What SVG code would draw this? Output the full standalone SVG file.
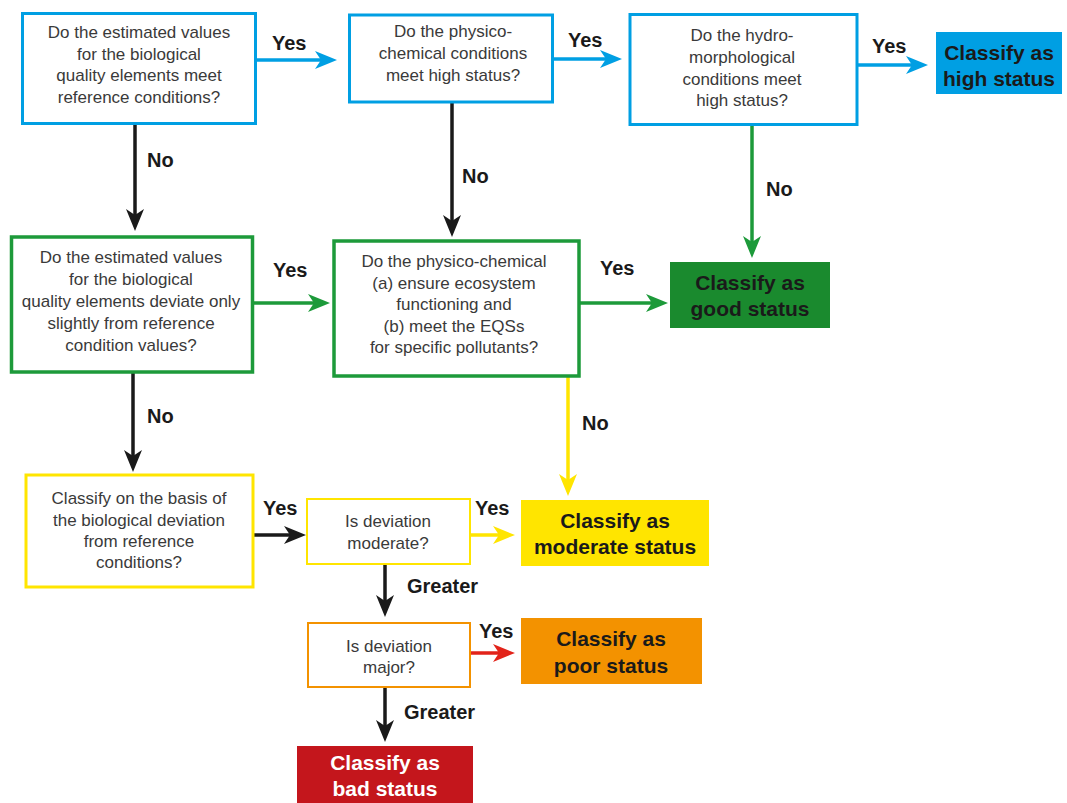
<svg xmlns="http://www.w3.org/2000/svg" width="1067" height="803" viewBox="0 0 1067 803">
<defs>
<style>
.q{fill:#fff;}
.t{font-family:"Liberation Sans",Arial,sans-serif;font-size:17px;fill:#3a3a3a;text-anchor:middle;}
.c{font-family:"Liberation Sans",Arial,sans-serif;font-size:21px;font-weight:bold;fill:#1a1a1a;text-anchor:middle;}
.l{font-family:"Liberation Sans",Arial,sans-serif;font-size:20px;font-weight:bold;fill:#1a1a1a;}
.ln{fill:none;stroke-width:3.5;}
</style>
<marker id="mb" viewBox="0 0 22 18" refX="8" refY="9" markerWidth="22" markerHeight="18" markerUnits="userSpaceOnUse" orient="auto"><path d="M0,0 L22,9 L0,18 L6,9 Z" fill="#009fe3"/></marker>
<marker id="mg" viewBox="0 0 22 18" refX="8" refY="9" markerWidth="22" markerHeight="18" markerUnits="userSpaceOnUse" orient="auto"><path d="M0,0 L22,9 L0,18 L6,9 Z" fill="#1d9a3a"/></marker>
<marker id="mk" viewBox="0 0 22 18" refX="8" refY="9" markerWidth="22" markerHeight="18" markerUnits="userSpaceOnUse" orient="auto"><path d="M0,0 L22,9 L0,18 L6,9 Z" fill="#1a1a1a"/></marker>
<marker id="my" viewBox="0 0 22 18" refX="8" refY="9" markerWidth="22" markerHeight="18" markerUnits="userSpaceOnUse" orient="auto"><path d="M0,0 L22,9 L0,18 L6,9 Z" fill="#ffe500"/></marker>
<marker id="mr" viewBox="0 0 22 18" refX="8" refY="9" markerWidth="22" markerHeight="18" markerUnits="userSpaceOnUse" orient="auto"><path d="M0,0 L22,9 L0,18 L6,9 Z" fill="#e2231a"/></marker>
</defs>
<rect width="1067" height="803" fill="#fff"/>

<g id="connectors">
<path class="ln" d="M257,60 H323" stroke="#009fe3" marker-end="url(#mb)"/>
<path class="ln" d="M553,59 H608" stroke="#009fe3" marker-end="url(#mb)"/>
<path class="ln" d="M858,65 H914" stroke="#009fe3" marker-end="url(#mb)"/>
<path class="ln" d="M253,303 H316" stroke="#1d9a3a" marker-end="url(#mg)"/>
<path class="ln" d="M580,303 H654" stroke="#1d9a3a" marker-end="url(#mg)"/>
<path class="ln" d="M135,125 V217" stroke="#1a1a1a" marker-end="url(#mk)"/>
<path class="ln" d="M452,103 V223" stroke="#1a1a1a" marker-end="url(#mk)"/>
<path class="ln" d="M752,125 V244" stroke="#1d9a3a" marker-end="url(#mg)"/>
<path class="ln" d="M133,373 V458" stroke="#1a1a1a" marker-end="url(#mk)"/>
<path class="ln" d="M568,377 V482" stroke="#ffe500" marker-end="url(#my)"/>
<path class="ln" d="M254,535 H292" stroke="#1a1a1a" marker-end="url(#mk)"/>
<path class="ln" d="M471,535 H501" stroke="#ffe500" marker-end="url(#my)"/>
<path class="ln" d="M385,565 V603" stroke="#1a1a1a" marker-end="url(#mk)"/>
<path class="ln" d="M471,653 H501" stroke="#e2231a" marker-end="url(#mr)"/>
<path class="ln" d="M385,688 V728" stroke="#1a1a1a" marker-end="url(#mk)"/>
<text class="l" x="272" y="50">Yes</text>
<text class="l" x="568" y="47">Yes</text>
<text class="l" x="872" y="53">Yes</text>
<text class="l" x="273" y="277">Yes</text>
<text class="l" x="600" y="275">Yes</text>
<text class="l" x="147" y="167">No</text>
<text class="l" x="462" y="183">No</text>
<text class="l" x="766" y="196">No</text>
<text class="l" x="147" y="423">No</text>
<text class="l" x="582" y="430">No</text>
<text class="l" x="263" y="515">Yes</text>
<text class="l" x="475" y="515">Yes</text>
<text class="l" x="407" y="593">Greater</text>
<text class="l" x="479" y="638">Yes</text>
<text class="l" x="404" y="719">Greater</text>
</g>

<g id="q1">
<rect class="q" x="22.5" y="13.5" width="233" height="110" stroke="#009fe3" stroke-width="3"/>
<text class="t" x="139" y="38">Do the estimated values</text>
<text class="t" x="139" y="59.5">for the biological</text>
<text class="t" x="139" y="81">quality elements meet</text>
<text class="t" x="139" y="102.5">reference conditions?</text>
</g>
<g id="q2">
<rect class="q" x="349.5" y="15" width="203" height="87" stroke="#009fe3" stroke-width="3"/>
<text class="t" x="453" y="37">Do the physico-</text>
<text class="t" x="453" y="59">chemical conditions</text>
<text class="t" x="453" y="81">meet high status?</text>
</g>
<g id="q3">
<rect class="q" x="630" y="14.5" width="227" height="110" stroke="#009fe3" stroke-width="3"/>
<text class="t" x="742" y="41">Do the hydro-</text>
<text class="t" x="742" y="63">morphological</text>
<text class="t" x="742" y="85">conditions meet</text>
<text class="t" x="742" y="106">high status?</text>
</g>
<g id="high">
<rect x="936" y="32" width="126" height="62" fill="#009fe3"/>
<text class="c" x="999" y="60">Classify as</text>
<text class="c" x="999" y="86">high status</text>
</g>
<g id="q4">
<rect class="q" x="11.5" y="237" width="241" height="135" stroke="#1d9a3a" stroke-width="3.5"/>
<text class="t" x="131" y="263">Do the estimated values</text>
<text class="t" x="131" y="285">for the biological</text>
<text class="t" x="131" y="307">quality elements deviate only</text>
<text class="t" x="131" y="329">slightly from reference</text>
<text class="t" x="131" y="351">condition values?</text>
</g>
<g id="q5">
<rect class="q" x="334" y="241" width="245" height="135" stroke="#1d9a3a" stroke-width="3.5"/>
<text class="t" x="454" y="267">Do the physico-chemical</text>
<text class="t" x="454" y="289">(a) ensure ecosystem</text>
<text class="t" x="454" y="310">functioning and</text>
<text class="t" x="454" y="332">(b) meet the EQSs</text>
<text class="t" x="454" y="353">for specific pollutants?</text>
</g>
<g id="good">
<rect x="670" y="262" width="160" height="66" fill="#1a8a2e"/>
<text class="c" x="750" y="290">Classify as</text>
<text class="c" x="750" y="316">good status</text>
</g>
<g id="q6">
<rect class="q" x="26" y="475" width="227" height="112" stroke="#ffe500" stroke-width="3"/>
<text class="t" x="139" y="504">Classify on the basis of</text>
<text class="t" x="139" y="526">the biological deviation</text>
<text class="t" x="139" y="547">from reference</text>
<text class="t" x="139" y="568">conditions?</text>
</g>
<g id="q7">
<rect class="q" x="307" y="499" width="163" height="65" stroke="#ffe500" stroke-width="2"/>
<text class="t" x="388" y="527">Is deviation</text>
<text class="t" x="388" y="549">moderate?</text>
</g>
<g id="moderate">
<rect x="521" y="500" width="188" height="66" fill="#ffe500"/>
<text class="c" x="615" y="528">Classify as</text>
<text class="c" x="615" y="554">moderate status</text>
</g>
<g id="q8">
<rect class="q" x="308" y="623" width="162" height="64" stroke="#f39200" stroke-width="2"/>
<text class="t" x="389" y="652">Is deviation</text>
<text class="t" x="389" y="673">major?</text>
</g>
<g id="poor">
<rect x="521" y="618" width="181" height="66" fill="#f39200"/>
<text class="c" x="611" y="646">Classify as</text>
<text class="c" x="611" y="673">poor status</text>
</g>
<g id="bad">
<rect x="297" y="746" width="176" height="57" fill="#c4161c"/>
<text class="c" x="385" y="770" style="fill:#fff">Classify as</text>
<text class="c" x="385" y="796" style="fill:#fff">bad status</text>
</g>
</svg>
